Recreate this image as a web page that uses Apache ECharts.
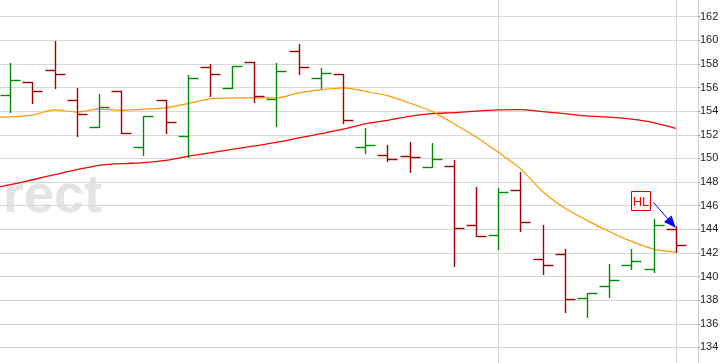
<!DOCTYPE html>
<html><head><meta charset="utf-8">
<script src="https://cdn.jsdelivr.net/npm/echarts@6/dist/echarts.min.js"></script>
<style>html,body{margin:0;padding:0;background:#fff;overflow:hidden;width:723px;height:363px}#c{position:absolute;left:0;top:-7px;width:723px;height:378px}</style>
</head><body><div id="c"></div>
<script>
// OHLC bars, one per trading day (index 0..30)
const opens  = [155.37,156.47,157.49,154.95,152.66,155.74,150.97,154.97,151.90,157.75,155.97,158.17,155.03,159.10,156.81,157.18,150.97,150.29,150.20,149.27,149.36,144.36,143.51,147.32,141.47,141.90,138.19,139.19,140.97,140.63,144.02];
const highs  = [158.08,156.47,159.97,155.97,155.48,155.74,153.59,154.97,157.03,158.03,157.80,158.17,158.08,159.72,157.69,157.18,152.58,151.16,151.42,151.33,149.89,147.60,147.49,148.85,144.38,142.32,138.62,141.05,142.32,144.89,144.30];
const lows   = [153.93,154.66,155.93,151.86,152.66,152.15,150.25,152.12,150.08,155.25,155.97,154.78,152.71,157.15,155.93,153.00,150.46,149.75,148.81,149.27,140.85,143.42,142.37,143.85,140.20,137.03,136.56,138.25,140.63,140.34,142.09];
const closes = [156.64,155.71,157.18,153.76,154.36,152.15,153.59,153.08,156.78,157.15,157.80,155.29,157.41,157.75,157.24,153.28,151.14,149.95,150.12,149.95,144.10,143.42,147.15,144.64,140.97,138.08,138.59,139.72,141.33,144.36,142.66];
// moving averages, starting one day before the first visible bar (index -1..30)
const maFast = [153.49,153.51,153.66,154.10,153.92,154.17,154.07,154.17,154.27,154.64,155.03,155.12,155.12,155.12,155.54,155.80,155.97,155.68,155.31,154.69,153.98,152.94,151.81,150.51,149.13,147.20,145.80,144.75,143.81,142.97,142.32,142.07];
const maSlow = [147.39,147.77,148.19,148.62,149.04,149.41,149.55,149.64,149.83,150.17,150.46,150.76,151.05,151.36,151.73,152.09,152.47,152.92,153.22,153.56,153.79,153.87,154.00,154.10,154.13,153.96,153.79,153.59,153.49,153.32,153.03,152.54];
// vertical divider days
const dividers = [22, 30];
// y tick range
const yMin = 132, yMax = 164, yStep = 2;
// annotation: label, box position [day, price], arrow target [day, price]
const annoText = ['HL'];
const annoBox = [[28.41, 146.42]];
const annoTarget = [[30, 144.13]];

const ohlcData = opens.map((o, i) => [i, o, highs[i], lows[i], closes[i]]);
const fastData = maFast.map((v, i) => [i - 1, v]);
const slowData = maSlow.map((v, i) => [i - 1, v]);
const annoData = annoText.map((t, i) => [annoBox[i][0], annoBox[i][1], annoTarget[i][0], annoTarget[i][1]]);

const px = v => Math.round(v) + 0.5;
const chart = echarts.init(document.getElementById('c'), null, {renderer: 'canvas'});
chart.setOption({
  animation: false,
  backgroundColor: '#fff',
  graphic: [{
    type: 'text', z: -10, silent: true, left: -12, top: 177,
    style: {text: 'irect', font: 'bold 54px "Liberation Sans", Arial, sans-serif', fill: '#e4e4e4'}
  }],
  grid: {left: 0, right: 25, top: 0, bottom: 0, outerBoundsMode: 'none', containLabel: false},
  xAxis: {type: 'value', min: -0.464, max: 31.006, show: false, axisLine: {show: false, onZero: false}, splitLine: {show: false}},
  yAxis: {
    type: 'value', position: 'right', min: yMin, max: yMax, interval: yStep,
    axisLine: {show: true, onZero: false, lineStyle: {color: '#d0d0d0'}},
    axisTick: {show: true, length: 2, lineStyle: {color: '#999'}},
    axisLabel: {margin: 2, color: '#222', fontSize: 11, fontFamily: '"Liberation Sans", Arial, sans-serif'},
    splitLine: {show: true, lineStyle: {color: '#d8d8d8', width: 1}}
  },
  series: [
    {
      type: 'custom', z: 1, silent: true, data: dividers.map(d => [d]),
      renderItem(params, api) {
        const x = px(api.coord([api.value(0), yMin])[0]);
        const cs = params.coordSys;
        return {type: 'line', shape: {x1: x, y1: cs.y, x2: x, y2: cs.y + cs.height}, style: {stroke: '#d8d8d8', lineWidth: 1}};
      }
    },
    {
      type: 'line', data: slowData, showSymbol: false, smooth: 0.3, z: 3, clip: true,
      lineStyle: {color: '#ff0000', width: 1.3}
    },
    {
      type: 'line', data: fastData, showSymbol: false, smooth: 0.3, z: 3, clip: true,
      lineStyle: {color: '#ff9900', width: 1.2}
    },
    {
      type: 'custom', z: 4, clip: true, data: ohlcData,
      encode: {x: 0, y: [1, 2, 3, 4]},
      renderItem(params, api) {
        const i = api.value(0), o = api.value(1), h = api.value(2), l = api.value(3), c = api.value(4);
        const x = Math.round(api.coord([i, o])[0]) + 0.5;
        const yo = px(api.coord([i, o])[1]), yh = Math.round(api.coord([i, h])[1]);
        const yl = Math.round(api.coord([i, l])[1]), yc = px(api.coord([i, c])[1]);
        const tick = Math.round(api.size([1, 0])[0] * 0.43);
        const color = c >= o ? '#008c00' : '#a30000';
        const st = {stroke: color, lineWidth: 1.4};
        return {type: 'group', children: [
          {type: 'line', shape: {x1: x, y1: yh, x2: x, y2: yl + 1}, style: st},
          {type: 'line', shape: {x1: x - tick, y1: yo, x2: x, y2: yo}, style: st},
          {type: 'line', shape: {x1: x, y1: yc, x2: x + tick, y2: yc}, style: st}
        ]};
      }
    },
    {
      type: 'custom', z: 5, clip: false, data: annoData,
      renderItem(params, api) {
        const c = api.coord([api.value(0), api.value(1)]);
        const t = api.coord([api.value(2), api.value(3)]);
        const w = 19, h = 19;
        const bx = px(c[0] - w / 2), by = px(c[1] - h / 2);
        const sx = bx + w + 3, sy = by + 11;
        const ang = Math.atan2(t[1] - sy, t[0] - sx);
        const L = 12, W = 5;
        const b2x = t[0] - L * Math.cos(ang), b2y = t[1] - L * Math.sin(ang);
        const p1 = [b2x + W * Math.sin(ang), b2y - W * Math.cos(ang)];
        const p2 = [b2x - W * Math.sin(ang), b2y + W * Math.cos(ang)];
        return {type: 'group', children: [
          {type: 'rect', shape: {x: bx, y: by, width: w, height: h}, style: {fill: '#fff', stroke: '#dd0000', lineWidth: 1}},
          {type: 'text', style: {text: annoText[params.dataIndex], x: bx + w / 2, y: by + h / 2 + 1, align: 'center', verticalAlign: 'middle', fill: '#ff0000', font: '13px "Liberation Sans", Arial, sans-serif'}},
          {type: 'line', shape: {x1: sx, y1: sy, x2: b2x, y2: b2y}, style: {stroke: '#0000ff', lineWidth: 1}},
          {type: 'polygon', shape: {points: [t, p1, p2]}, style: {fill: '#0000ff'}}
        ]};
      }
    }
  ]
});
</script>
</body></html>
